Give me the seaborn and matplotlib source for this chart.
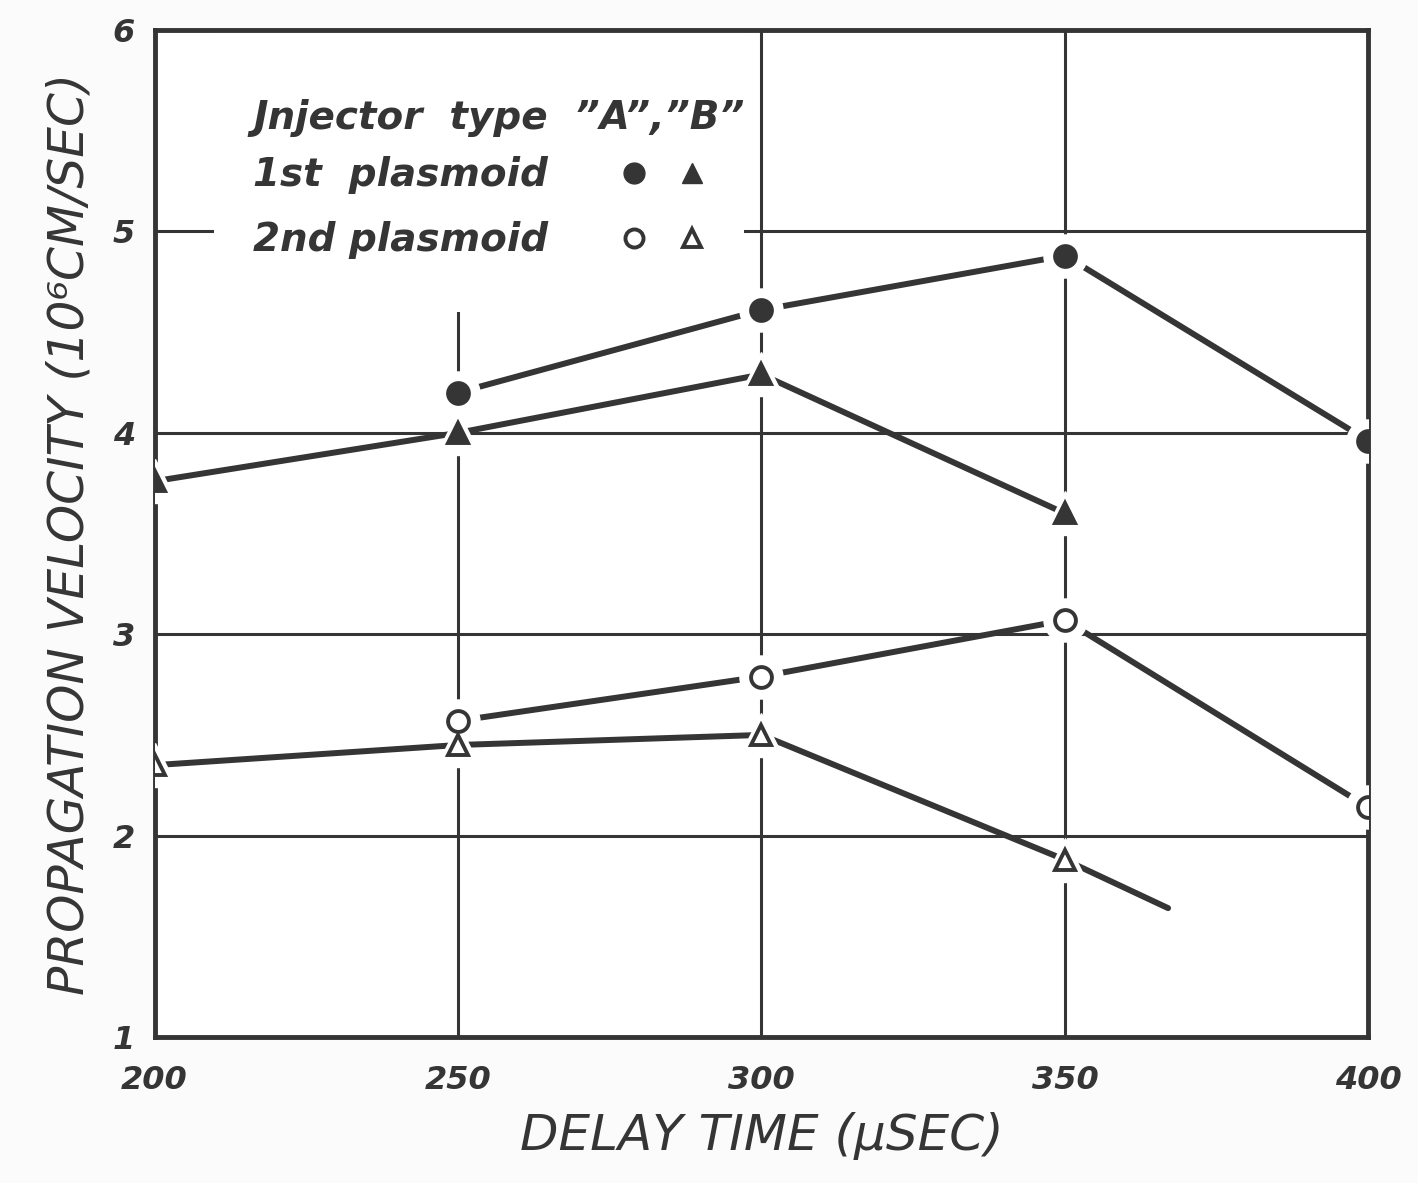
import matplotlib
matplotlib.use("Agg")
import matplotlib.pyplot as plt
import seaborn as sns
from matplotlib.lines import Line2D
from matplotlib.patches import Rectangle
from matplotlib.legend_handler import HandlerTuple

# ------------------------
# data
# ------------------------
delay_a = [250, 300, 350, 400]
first_a = [4.20, 4.61, 4.88, 3.96]
second_a = [2.57, 2.79, 3.07, 2.14]

delay_b = [200, 250, 300, 350]
first_b = [3.76, 4.00, 4.29, 3.60]
second_b = [2.35, 2.45, 2.50, 1.88]

# 2nd plasmoid "B" line runs on past the last point
tail_delay = [350, 367]
tail_second_b = [1.88, 1.64]

x_ticks = [200, 250, 300, 350, 400]
y_ticks = [1, 2, 3, 4, 5, 6]

INK = "#353535"

sns.set_style("white")
plt.rcParams["font.family"] = ["DejaVu Sans"]

fig = plt.figure(figsize=(14.18, 11.83), dpi=100, facecolor="#fbfbfb")
ax = fig.add_axes([0.109, 0.1234, 0.856, 0.8512])
ax.set_facecolor("white")

series = [
    (delay_a, first_a, "o", INK),
    (delay_b, first_b, "^", INK),
    (delay_a, second_a, "o", "white"),
    (delay_b, second_b, "^", "white"),
]

# connecting lines
for xs, ys, _, _ in series:
    sns.lineplot(x=xs, y=ys, ax=ax, color=INK, lw=4.3, zorder=3,
                 solid_capstyle="round")
sns.lineplot(x=tail_delay, y=tail_second_b, ax=ax, color=INK, lw=4.3,
             zorder=3, solid_capstyle="round")

# white halo around each marker, then the marker itself
for xs, ys, mk, face in series:
    ax.plot(xs, ys, ls="none", marker=mk, ms=31, mfc="white", mec="white",
            zorder=4)
    ax.plot(xs, ys, ls="none", marker=mk, ms=15, mfc=face, mec=INK,
            mew=2.8, zorder=5)

ax.set_xlim(200, 400)
ax.set_ylim(1, 6)
ax.set_xticks(x_ticks)
ax.set_yticks(y_ticks)
ax.grid(True, color=INK, lw=2.2, zorder=1)
ax.set_axisbelow(True)
for s in ax.spines.values():
    s.set_color(INK)
    s.set_linewidth(3.5)

tick_font = dict(fontsize=23, fontweight="bold", fontstyle="italic", color=INK)
ax.set_xticklabels([str(t) for t in x_ticks], **tick_font)
ax.set_yticklabels([str(t) for t in y_ticks], **tick_font)
ax.tick_params(axis="x", length=0, pad=20)
ax.tick_params(axis="y", length=0, pad=14)

ax.set_xlabel("DELAY TIME (\u03bcSEC)", fontsize=36, color=INK,
              fontstyle="italic", labelpad=12)
ax.set_ylabel("PROPAGATION VELOCITY (10\u2076CM/SEC)", fontsize=35,
              color=INK, fontstyle="italic", labelpad=14)

# blank paper behind the key hides the grid there
ax.add_patch(Rectangle((0.049, 0.72), 0.437, 0.28, transform=ax.transAxes,
                       facecolor="white", edgecolor="none", zorder=2))

# legend: text on the left, markers for injector "A" and "B" on the right
h_first = (Line2D([], [], ls="none", marker="o", ms=15, mfc=INK, mec=INK),
           Line2D([], [], ls="none", marker="^", ms=15, mfc=INK, mec=INK))
h_second = (Line2D([], [], ls="none", marker="o", ms=13, mfc="white", mec=INK, mew=2.8),
            Line2D([], [], ls="none", marker="^", ms=13, mfc="white", mec=INK, mew=2.8))
leg_font = dict(size=28, weight="bold", style="italic")
leg = ax.legend([h_first, h_second], ["1st  plasmoid", "2nd plasmoid"],
                handler_map={tuple: HandlerTuple(ndivide=None, pad=0.7)},
                title="Jnjector  type  \u201dA\u201d,\u201dB\u201d",
                markerfirst=False, loc="upper left",
                bbox_to_anchor=(0.062, 0.955), frameon=False,
                handlelength=2.3, handletextpad=1.8, labelspacing=0.7,
                borderpad=0.1, alignment="left",
                prop=leg_font, title_fontproperties=leg_font)
leg._legend_box.sep = 14
for t in leg.get_texts():
    t.set_color(INK)
leg.get_title().set_color(INK)
leg.set_zorder(6)

fig.savefig("out.png", dpi=100, facecolor=fig.get_facecolor())
